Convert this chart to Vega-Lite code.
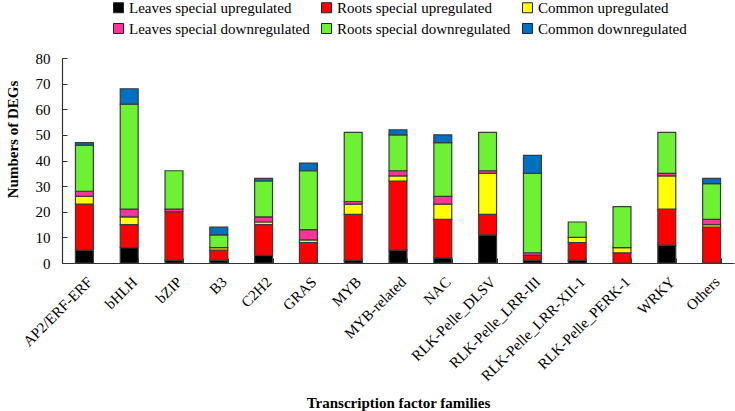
{
  "$schema": "https://vega.github.io/schema/vega-lite/v6.json",
  "autosize": "none",
  "width": 672,
  "height": 205,
  "padding": {"left": 62, "top": 58, "right": 1, "bottom": 148},
  "background": "white",
  "data": {
    "values": [
      {"family": "AP2/ERF-ERF", "Leaves special upregulated": 5, "Roots special upregulated": 18, "Common upregulated": 3, "Leaves special downregulated": 2, "Roots special downregulated": 18, "Common downregulated": 1},
      {"family": "bHLH", "Leaves special upregulated": 6, "Roots special upregulated": 9, "Common upregulated": 3, "Leaves special downregulated": 3, "Roots special downregulated": 41, "Common downregulated": 6},
      {"family": "bZIP", "Leaves special upregulated": 1, "Roots special upregulated": 19, "Common upregulated": 0, "Leaves special downregulated": 1, "Roots special downregulated": 15, "Common downregulated": 0},
      {"family": "B3", "Leaves special upregulated": 1, "Roots special upregulated": 4, "Common upregulated": 1, "Leaves special downregulated": 0, "Roots special downregulated": 5, "Common downregulated": 3},
      {"family": "C2H2", "Leaves special upregulated": 3, "Roots special upregulated": 12, "Common upregulated": 1, "Leaves special downregulated": 2, "Roots special downregulated": 14, "Common downregulated": 1},
      {"family": "GRAS", "Leaves special upregulated": 0, "Roots special upregulated": 8, "Common upregulated": 1, "Leaves special downregulated": 4, "Roots special downregulated": 23, "Common downregulated": 3},
      {"family": "MYB", "Leaves special upregulated": 1, "Roots special upregulated": 18, "Common upregulated": 4, "Leaves special downregulated": 1, "Roots special downregulated": 27, "Common downregulated": 0},
      {"family": "MYB-related", "Leaves special upregulated": 5, "Roots special upregulated": 27, "Common upregulated": 2, "Leaves special downregulated": 2, "Roots special downregulated": 14, "Common downregulated": 2},
      {"family": "NAC", "Leaves special upregulated": 2, "Roots special upregulated": 15, "Common upregulated": 6, "Leaves special downregulated": 3, "Roots special downregulated": 21, "Common downregulated": 3},
      {"family": "RLK-Pelle_DLSV", "Leaves special upregulated": 11, "Roots special upregulated": 8, "Common upregulated": 16, "Leaves special downregulated": 1, "Roots special downregulated": 15, "Common downregulated": 0},
      {"family": "RLK-Pelle_LRR-III", "Leaves special upregulated": 1, "Roots special upregulated": 2, "Common upregulated": 0, "Leaves special downregulated": 1, "Roots special downregulated": 31, "Common downregulated": 7},
      {"family": "RLK-Pelle_LRR-XII-1", "Leaves special upregulated": 1, "Roots special upregulated": 7, "Common upregulated": 2, "Leaves special downregulated": 0, "Roots special downregulated": 6, "Common downregulated": 0},
      {"family": "RLK-Pelle_PERK-1", "Leaves special upregulated": 0, "Roots special upregulated": 4, "Common upregulated": 2, "Leaves special downregulated": 0, "Roots special downregulated": 16, "Common downregulated": 0},
      {"family": "WRKY", "Leaves special upregulated": 7, "Roots special upregulated": 14, "Common upregulated": 13, "Leaves special downregulated": 1, "Roots special downregulated": 16, "Common downregulated": 0},
      {"family": "Others", "Leaves special upregulated": 0, "Roots special upregulated": 14, "Common upregulated": 1, "Leaves special downregulated": 2, "Roots special downregulated": 14, "Common downregulated": 2}
    ]
  },
  "transform": [
    {"fold": ["Leaves special upregulated", "Roots special upregulated", "Common upregulated", "Leaves special downregulated", "Roots special downregulated", "Common downregulated"], "as": ["series", "value"]},
    {"filter": "datum.value > 0"},
    {"calculate": "indexof(['Leaves special upregulated', 'Roots special upregulated', 'Common upregulated', 'Leaves special downregulated', 'Roots special downregulated', 'Common downregulated'], datum.series)", "as": "stackIndex"}
  ],
  "mark": {"type": "bar", "stroke": "#3a3a3a", "strokeWidth": 1.2},
  "encoding": {
    "x": {
      "field": "family",
      "type": "nominal",
      "sort": null,
      "scale": {"paddingInner": 0.6, "paddingOuter": 0.3},
      "axis": {
        "title": "Transcription factor families",
        "titleFont": "Liberation Serif",
        "titleFontSize": 15,
        "titleFontWeight": "bold",
        "titleColor": "black",
        "titleY": 132,
        "titleBaseline": "top",
        "labelAngle": -45,
        "labelAlign": "right",
        "labelBaseline": "top",
        "labelFont": "Liberation Serif",
        "labelFontSize": 15,
        "labelColor": "black",
        "labelPadding": 16,
        "labelLimit": 0,
        "tickBand": "extent",
        "tickSize": -5,
        "tickColor": "#333",
        "domainColor": "#333",
        "domainWidth": 1.2
      }
    },
    "y": {
      "field": "value",
      "type": "quantitative",
      "stack": "zero",
      "scale": {"domain": [0, 80], "nice": false},
      "axis": {
        "title": "Numbers of DEGs",
        "titleFont": "Liberation Serif",
        "titleFontSize": 15,
        "titleFontWeight": "bold",
        "titleColor": "black",
        "titleX": -42,
        "titleY": 81,
        "values": [0, 10, 20, 30, 40, 50, 60, 70, 80],
        "grid": false,
        "labelFont": "Liberation Serif",
        "labelFontSize": 15,
        "labelColor": "black",
        "labelPadding": 17,
        "tickSize": -5,
        "tickColor": "#333",
        "domainColor": "#333",
        "domainWidth": 1.2
      }
    },
    "color": {
      "field": "series",
      "type": "nominal",
      "scale": {
        "domain": ["Leaves special upregulated", "Roots special upregulated", "Common upregulated", "Leaves special downregulated", "Roots special downregulated", "Common downregulated"],
        "range": ["#000000", "#FF0000", "#FFFF00", "#FF3399", "#6CF233", "#0070C0"]
      },
      "legend": {
        "title": null,
        "orient": "none",
        "legendX": 49,
        "legendY": -58,
        "direction": "horizontal",
        "columns": 3,
        "symbolType": "square",
        "symbolSize": 100,
        "symbolStrokeColor": "#222",
        "symbolStrokeWidth": 1,
        "labelFont": "Liberation Serif",
        "labelFontSize": 15,
        "labelColor": "black",
        "labelLimit": 0,
        "labelOffset": 3,
        "columnPadding": 9,
        "rowPadding": 5
      }
    },
    "order": {"field": "stackIndex", "type": "quantitative", "sort": "ascending"}
  },
  "config": {"view": {"stroke": null}}
}
